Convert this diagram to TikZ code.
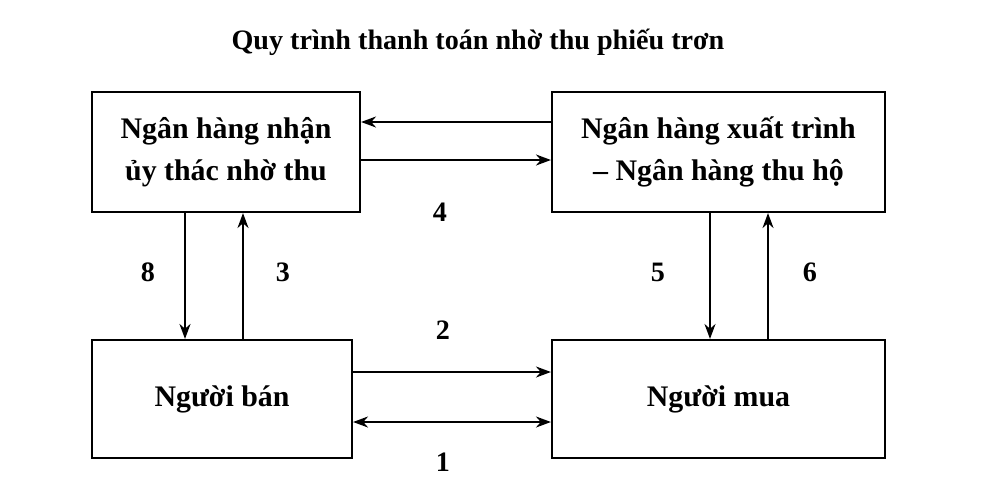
\documentclass[tikz,border=0pt]{standalone}
\usepackage{fontspec}
\setmainfont{Liberation Serif}
\usetikzlibrary{arrows.meta}
\tikzset{
    party/.style={
        draw,
        very thick,
        rectangle,
        align=center,
        font=\fontsize{17}{24}\selectfont\bfseries
    },
    every node/.style={font=\fontsize{16}{22}\selectfont\bfseries},
    flow/.style={
        very thick,
        -{Stealth[length=3mm, width=2.2mm]}
    }
}
\begin{document}
\begin{tikzpicture}[x=0.02cm, y=-0.02cm]
    \useasboundingbox (0,0) rectangle (1000,497);
    \node (T) at (478,42) {Quy trình thanh toán nhờ thu phiếu trơn};

    \node[party, minimum width=268*0.02cm, minimum height=120*0.02cm] (NH1) at (226,152) {Ngân hàng nhận\\ủy thác nhờ thu};
    \node[party, minimum width=333*0.02cm, minimum height=120*0.02cm] (NH2) at (718.5,152) {Ngân hàng xuất trình\\– Ngân hàng thu hộ};
    \node[party, minimum width=260*0.02cm, minimum height=118*0.02cm] (NB) at (222,399) {Người bán};
    \node[party, minimum width=333*0.02cm, minimum height=118*0.02cm] (NM) at (718.5,399) {Người mua};

    \draw[flow] (NH2.west |- 0,122) -- (NH1.east |- 0,122);
    \draw[flow] (NH1.east |- 0,160) -- (NH2.west |- 0,160);
    \draw[flow] (NH1.south -| 185,0) -- (NB.north -| 185,0);
    \draw[flow] (NB.north -| 243,0) -- (NH1.south -| 243,0);
    \draw[flow] (NH2.south -| 710,0) -- (NM.north -| 710,0);
    \draw[flow] (NM.north -| 768,0) -- (NH2.south -| 768,0);
    \draw[flow] (NB.east |- 0,372) -- (NM.west |- 0,372);
    \draw[flow, {Stealth[length=3mm, width=2.2mm]}-{Stealth[length=3mm, width=2.2mm]}] (NB.east |- 0,422) -- (NM.west |- 0,422);

    \node (L4) at (440,212) {4};
    \node (L8) at (148,272) {8};
    \node (L3) at (283,272) {3};
    \node (L5) at (658,272) {5};
    \node (L6) at (810,272) {6};
    \node (L2) at (443,330) {2};
    \node (L1) at (443,462) {1};
\end{tikzpicture}
\end{document}
